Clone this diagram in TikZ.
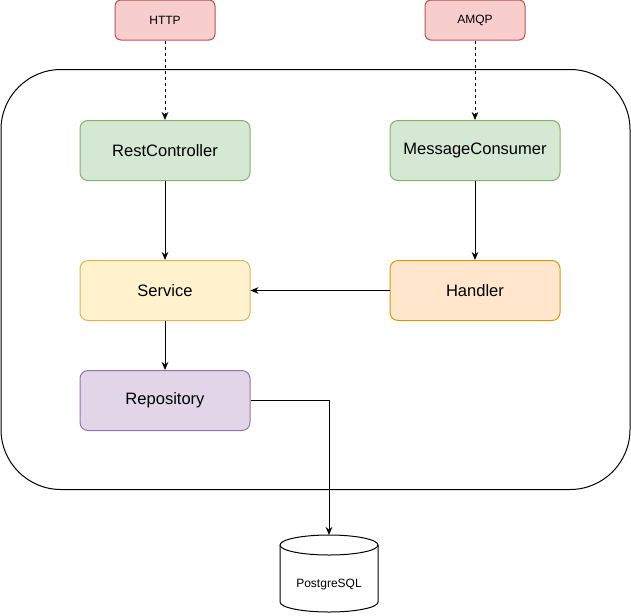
\documentclass[tikz,border=0pt]{standalone}
\usepackage{fontspec}
\setmainfont{Liberation Sans}
\usetikzlibrary{arrows.meta}

\definecolor{redfill}{HTML}{F8CECC}
\definecolor{redline}{HTML}{B85450}
\definecolor{greenfill}{HTML}{D5E8D4}
\definecolor{greenline}{HTML}{82B366}
\definecolor{yellowfill}{HTML}{FFF2CC}
\definecolor{yellowline}{HTML}{D6B656}
\definecolor{orangefill}{HTML}{FFE6CC}
\definecolor{orangeline}{HTML}{D79B00}
\definecolor{purplefill}{HTML}{E1D5E7}
\definecolor{purpleline}{HTML}{9673A6}

\tikzset{
  pix/.style={x=0.75pt,y=-0.75pt},
  protobox/.style={draw=redline,fill=redfill,rounded corners=4.5pt,line width=0.75pt,
    minimum width=75pt,minimum height=30pt,inner sep=0pt,font=\fontsize{9}{11}\selectfont},
  compbox/.style={rounded corners=6pt,line width=0.75pt,minimum width=127.5pt,
    minimum height=45pt,inner sep=0pt,font=\fontsize{12.4}{15}\selectfont},
  flow/.style={line width=0.75pt,-{Stealth[length=6pt,width=5pt]}},
  inflow/.style={flow,dash pattern=on 2.25pt off 2.25pt}
}

\begin{document}
\begin{tikzpicture}[pix]
\useasboundingbox (0,0) rectangle (631,615);

\draw[line width=0.75pt,rounded corners=45pt] (1,69.5) rectangle (630,489.5);

\node[protobox] (http) at (165,20) {HTTP};
\node[protobox] (amqp) at (475,20) {AMQP};

\node[compbox,draw=greenline,fill=greenfill] (rest) at (165,150.5) {RestController};
\node[compbox,draw=greenline,fill=greenfill] (consumer) at (475,150.5) {MessageConsumer};
\node[compbox,draw=yellowline,fill=yellowfill] (service) at (165,290.5) {Service};
\node[compbox,draw=orangeline,fill=orangefill] (handler) at (475,290.5) {Handler};
\node[compbox,draw=purpleline,fill=purplefill] (repo) at (165,400.5) {Repository};

\draw[line width=0.75pt] (280,545)
  arc[start angle=180,end angle=360,x radius=49,y radius=10]
  -- (378,602)
  arc[start angle=0,end angle=180,x radius=49,y radius=10] -- cycle;
\draw[line width=0.75pt] (280,545)
  arc[start angle=180,end angle=0,x radius=49,y radius=10];
\node[minimum width=73.5pt,minimum height=42pt,inner sep=0pt,
  font=\fontsize{9}{11}\selectfont] (db) at (329,585) {PostgreSQL};
\coordinate (dbtop) at (329,535);

\draw[inflow] (http) -- (rest);
\draw[inflow] (amqp) -- (consumer);
\draw[flow] (rest) -- (service);
\draw[flow] (consumer) -- (handler);
\draw[flow] (handler) -- (service);
\draw[flow] (service) -- (repo);
\draw[flow] (repo.east) -| (dbtop);
\end{tikzpicture}
\end{document}
